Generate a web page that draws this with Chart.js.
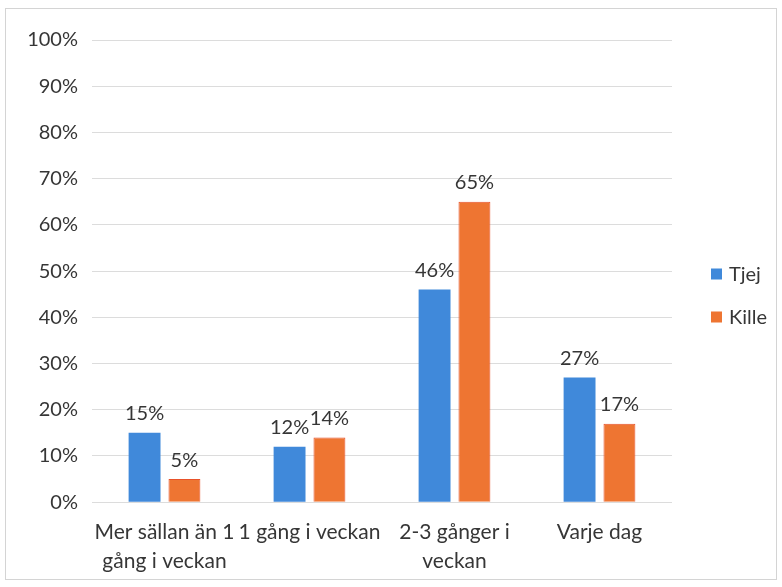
<!DOCTYPE html>
<html>
<head>
<meta charset="utf-8">
<script src="https://cdn.jsdelivr.net/npm/chart.js@4"></script>
<style>
    body { margin: 0; background: #fff; }
    #wrap { position: relative; width: 782px; height: 587px; }
    #frame { position: absolute; left: 5px; top: 8px; width: 770px; height: 570px; border: 1px solid #d4d4d4; pointer-events: none; }
</style>
</head>
<body>
<div id="wrap">
    <canvas id="freq" width="782" height="587"></canvas>
    <div id="frame"></div>
</div>
<script>
const categories = [
    ["Mer sällan än 1", "gång i veckan"],
    "1 gång i veckan",
    ["2-3 gånger i", "veckan"],
    "Varje dag",
];
const tjej = [15, 12, 46, 27];
const kille = [5, 14, 65, 17];

const textColor = "#363636";

// percentage above every bar
const valueLabels = {
    id: "valueLabels",
    afterDatasetsDraw(chart) {
        const ctx = chart.ctx;
        ctx.save();
        ctx.font = "20px Lato";
        ctx.fillStyle = textColor;
        ctx.textAlign = "center";
        ctx.textBaseline = "bottom";
        chart.data.datasets.forEach((ds, i) => {
            chart.getDatasetMeta(i).data.forEach((bar, j) => {
                ctx.fillText(ds.data[j] + "%", bar.x, bar.y - 9);
            });
        });
        ctx.restore();
    },
};

// legend drawn like Excel: centred on the whole frame, right side
const sideLegend = {
    id: "sideLegend",
    afterDraw(chart) {
        const ctx = chart.ctx;
        const x = chart.chartArea.right + 39;
        const gap = 43;
        const n = chart.data.datasets.length;
        let y = 295 - (gap * (n - 1)) / 2;
        ctx.save();
        ctx.font = "20px Lato";
        ctx.textBaseline = "middle";
        chart.data.datasets.forEach((ds) => {
            ctx.fillStyle = ds.backgroundColor;
            ctx.fillRect(x, y - 5, 11, 11);
            ctx.fillStyle = textColor;
            ctx.fillText(ds.label, x + 18, y + 1);
            y += gap;
        });
        ctx.restore();
    },
};

const freqData = {
    labels: categories,
    datasets: [
        {
            label: "Tjej",
            data: tjej,
            backgroundColor: "#4089DA",
            categoryPercentage: 0.55,
            barPercentage: 0.8,
        },
        {
            label: "Kille",
            data: kille,
            backgroundColor: "#EE7532",
            borderColor: "#E8522A",
            borderWidth: 1,
            categoryPercentage: 0.55,
            barPercentage: 0.8,
        },
    ],
};

const freqConfig = {
    type: "bar",
    data: freqData,
    plugins: [valueLabels, sideLegend],
    options: {
        responsive: false,
        animation: false,
        layout: {
            padding: { top: 40, left: 0, right: 110, bottom: 4 },
        },
        scales: {
            x: {
                grid: { display: false },
                border: { display: false },
                ticks: {
                    color: textColor,
                    font: { family: "Lato", size: 21, lineHeight: 1.4 },
                    padding: 7,
                    maxRotation: 0,
                    autoSkip: false,
                },
            },
            y: {
                min: 0,
                max: 100,
                border: { display: false },
                grid: { color: "#dcdcdc", drawTicks: false },
                afterFit(scale) {
                    scale.width = 92;
                },
                ticks: {
                    stepSize: 10,
                    color: textColor,
                    font: { family: "Lato", size: 20 },
                    padding: 14,
                    callback: (v) => v + "%",
                },
            },
        },
        plugins: {
            legend: { display: false },
            tooltip: { enabled: false },
        },
    },
};
let freqChart = new Chart(document.getElementById("freq"), freqConfig);
</script>
</body>
</html>
